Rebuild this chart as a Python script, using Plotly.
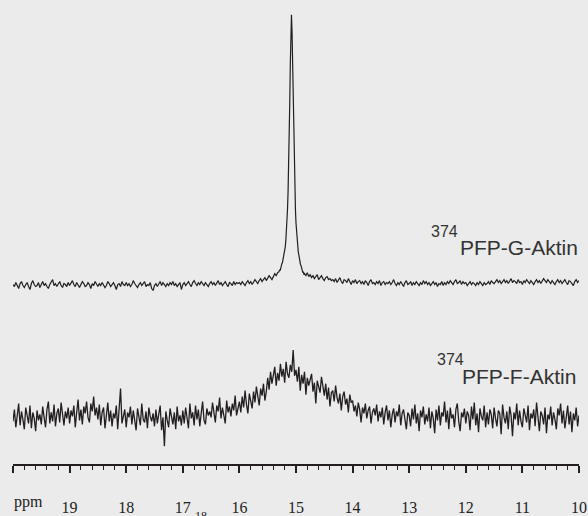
import numpy as np
import plotly.graph_objects as go

# ---------------- data ----------------
# chemical-shift sampling (ppm) for the G-actin trace: left baseline, peak region, right baseline
g_ppm_left = np.linspace(20.0, 15.325, 188)
g_ppm_peak = np.linspace(15.30, 14.86, 45)
g_ppm_right = np.linspace(14.85, 10.0, 195)

g_int_left = [
    3,1,5,2,-1,4,6,2,0,3,5,1,-2,4,7,3,1,2,5,0,
    3,6,2,4,1,-1,3,5,8,2,4,1,3,6,2,0,4,3,1,5,
    2,4,7,3,1,5,2,0,3,6,4,1,2,5,3,-1,4,2,6,3,
    1,4,2,5,3,0,2,6,4,1,3,5,2,-2,3,4,1,6,3,2,
    5,2,4,1,3,7,4,2,0,3,5,2,4,6,1,3,2,5,-1,-3,
    2,4,1,3,6,2,5,3,1,4,2,5,3,6,2,4,1,3,5,-2,
    3,5,2,4,6,3,1,5,7,4,2,5,3,6,4,2,5,3,1,4,
    6,3,5,2,4,7,3,5,2,4,6,3,1,5,4,2,6,3,5,4,
    5,3,6,4,2,5,7,4,6,3,5,8,6,4,7,9,6,8,10,7,
    9,12,10,8,11,14,12,15,
]
g_int_peak = [
    16,18,17,21,20,24,25,28,29,33,37,41,47,55,65,79,97,120,150,187,226,258,
    275,
    258,226,187,150,120,97,79,65,55,47,42,36,33,28,27,23,22,19,18,15,16,13,
]
g_int_right = [
    14,12,15,11,13,10,12,9,11,13,8,10,12,9,7,10,11,8,9,7,
    8,6,9,5,7,10,6,4,8,7,5,9,6,3,7,5,8,4,6,7,
    4,6,3,7,5,2,6,8,4,5,3,6,4,7,2,5,6,3,5,4,
    6,3,5,8,4,2,5,3,6,4,1,5,7,3,4,6,2,5,3,6,
    4,2,5,3,7,4,6,3,5,2,4,6,3,5,1,4,3,6,2,5,
    3,6,4,7,5,3,6,8,4,5,7,3,6,4,5,2,4,6,3,5,
    4,2,5,3,6,4,2,5,3,4,6,3,7,5,4,6,8,5,7,4,
    6,8,5,7,4,6,9,5,7,6,4,8,5,6,3,7,5,8,6,4,
    7,5,3,6,8,5,7,4,6,9,7,5,8,6,4,7,5,3,6,8,
    5,7,4,6,8,5,3,7,6,4,2,6,8,5,7,
]

# F-actin trace
f_ppm = np.linspace(20.0, 10.0, 401)
f_int = [
    0,12,-6,8,18,-4,10,2,-8,14,5,-2,16,-7,9,3,-10,11,1,7,
    -3,15,4,-6,12,20,-2,9,0,17,-5,8,13,-1,19,6,-4,10,3,14,
    -2,11,5,16,-6,9,22,1,12,-3,15,8,20,4,-1,18,10,25,6,14,
    2,17,-4,9,14,-7,6,19,0,11,-5,8,3,16,-8,10,33,-2,7,12,
    -6,9,4,15,-3,11,1,-9,13,6,-4,18,2,-1,10,-7,14,5,0,8,
    -5,12,-2,7,16,-9,4,-25,10,1,-6,13,3,-3,9,-8,15,0,6,-4,
    11,-2,14,5,-7,18,3,9,-4,16,2,12,-5,8,20,1,-3,13,6,10,
    4,19,8,-1,16,10,24,3,14,7,-2,21,9,15,5,18,11,26,6,13,
    20,9,25,14,31,17,8,28,22,13,30,19,35,24,16,33,26,38,21,30,
    44,32,50,38,47,55,36,49,41,58,45,53,39,60,48,44,57,50,72,46,
    52,40,55,31,47,38,50,27,44,36,42,48,30,39,18,41,35,29,45,33,
    26,38,22,34,15,29,31,20,36,24,18,28,11,25,30,17,23,9,27,19,
    21,10,16,5,19,12,-1,14,8,18,3,11,15,-2,9,13,6,17,0,10,
    4,14,-3,9,16,1,11,-6,7,13,-1,10,5,17,-4,8,12,2,-8,9,
    6,-5,13,2,17,-2,8,-10,11,4,15,-3,7,0,14,-7,10,3,-12,12,
    1,16,-4,9,5,20,-1,11,-8,14,3,7,-6,12,18,0,-10,9,4,13,
    -2,10,6,-9,15,2,19,-4,8,-11,13,5,1,16,-6,9,-3,12,7,-7,
    14,3,-5,11,8,-13,17,4,-2,10,-8,15,6,-15,9,2,18,-4,11,0,
    -6,13,5,-1,16,-9,8,3,12,-5,19,1,-10,10,6,-3,14,-12,7,2,
    15,-4,9,2,-8,13,6,18,-2,11,-7,4,16,-3,10,-11,8,1,14,-5,
    6,
]

tick_vals = [20, 19, 18, 17, 16, 15, 14, 13, 12, 11, 10]
tick_text = ["", "19", "18", "17", "16", "15", "14", "13", "12", "11", "10"]

label_iso = "374"
label_g = "PFP-G-Aktin"
label_f = "PFP-F-Aktin"
axis_unit = "ppm"
stray_label = "18"

# ---------------- styling / layout constants ----------------
G_OFFSET = 178
F_OFFSET = 43
LINE_COLOR = "#231f20"
BG = "#ebebeb"

g_ppm = np.concatenate([g_ppm_left, g_ppm_peak, g_ppm_right])
g_int = np.array(g_int_left + g_int_peak + g_int_right, dtype=float)
assert len(g_ppm) == len(g_int), (len(g_ppm), len(g_int))
assert len(f_ppm) == len(f_int), (len(f_ppm), len(f_int))

fig = go.Figure()
fig.add_trace(go.Scatter(x=g_ppm, y=g_int + G_OFFSET, mode="lines",
                         line=dict(color=LINE_COLOR, width=1.2), showlegend=False,
                         hoverinfo="skip"))
fig.add_trace(go.Scatter(x=f_ppm, y=np.array(f_int, dtype=float) + F_OFFSET, mode="lines",
                         line=dict(color=LINE_COLOR, width=1.3), showlegend=False,
                         hoverinfo="skip"))

sans = "Liberation Sans, Arial, sans-serif"
serif = "Liberation Serif, Times New Roman, serif"

annos = [
    dict(x=10.0, y=218, text=label_g, xanchor="right", yanchor="middle",
         xref="x", yref="y",
         font=dict(family=sans, size=21, color="#333333")),
    dict(x=12.12, y=235, text=label_iso, xanchor="right", yanchor="middle",
         xref="x", yref="y",
         font=dict(family=sans, size=16, color="#333333")),
    dict(x=10.035, y=88, text=label_f, xanchor="right", yanchor="middle",
         xref="x", yref="y",
         font=dict(family=sans, size=21, color="#333333")),
    dict(x=12.01, y=105, text=label_iso, xanchor="right", yanchor="middle",
         xref="x", yref="y",
         font=dict(family=sans, size=16, color="#333333")),
    dict(x=0.0, y=-0.081, text=axis_unit, xanchor="left", yanchor="middle",
         xref="paper", yref="paper",
         font=dict(family=serif, size=16, color="#222222")),
    dict(x=0.332, y=-0.113, text=stray_label, xanchor="center", yanchor="middle",
         xref="paper", yref="paper",
         font=dict(family=serif, size=12, color="#222222")),
]
for a in annos:
    a.update(showarrow=False, borderpad=0)

fig.update_layout(
    width=588, height=516,
    margin=dict(l=13, r=9, t=0, b=48),
    paper_bgcolor=BG, plot_bgcolor=BG,
    annotations=annos,
    xaxis=dict(
        range=[20, 10], showgrid=False, zeroline=False,
        showline=True, linecolor=LINE_COLOR, linewidth=1.5,
        tickmode="array", tickvals=tick_vals, ticktext=tick_text,
        ticks="outside", ticklen=7, tickwidth=1.5, tickcolor=LINE_COLOR,
        ticklabelstandoff=21,
        tickfont=dict(family=serif, size=16, color="#222222"),
        minor=dict(tickmode="linear", tick0=10, dtick=0.2, ticks="outside",
                   ticklen=4, tickwidth=1, tickcolor=LINE_COLOR, showgrid=False),
    ),
    yaxis=dict(range=[0, 468], visible=False, showgrid=False, zeroline=False),
)

fig.write_html("out.html")
